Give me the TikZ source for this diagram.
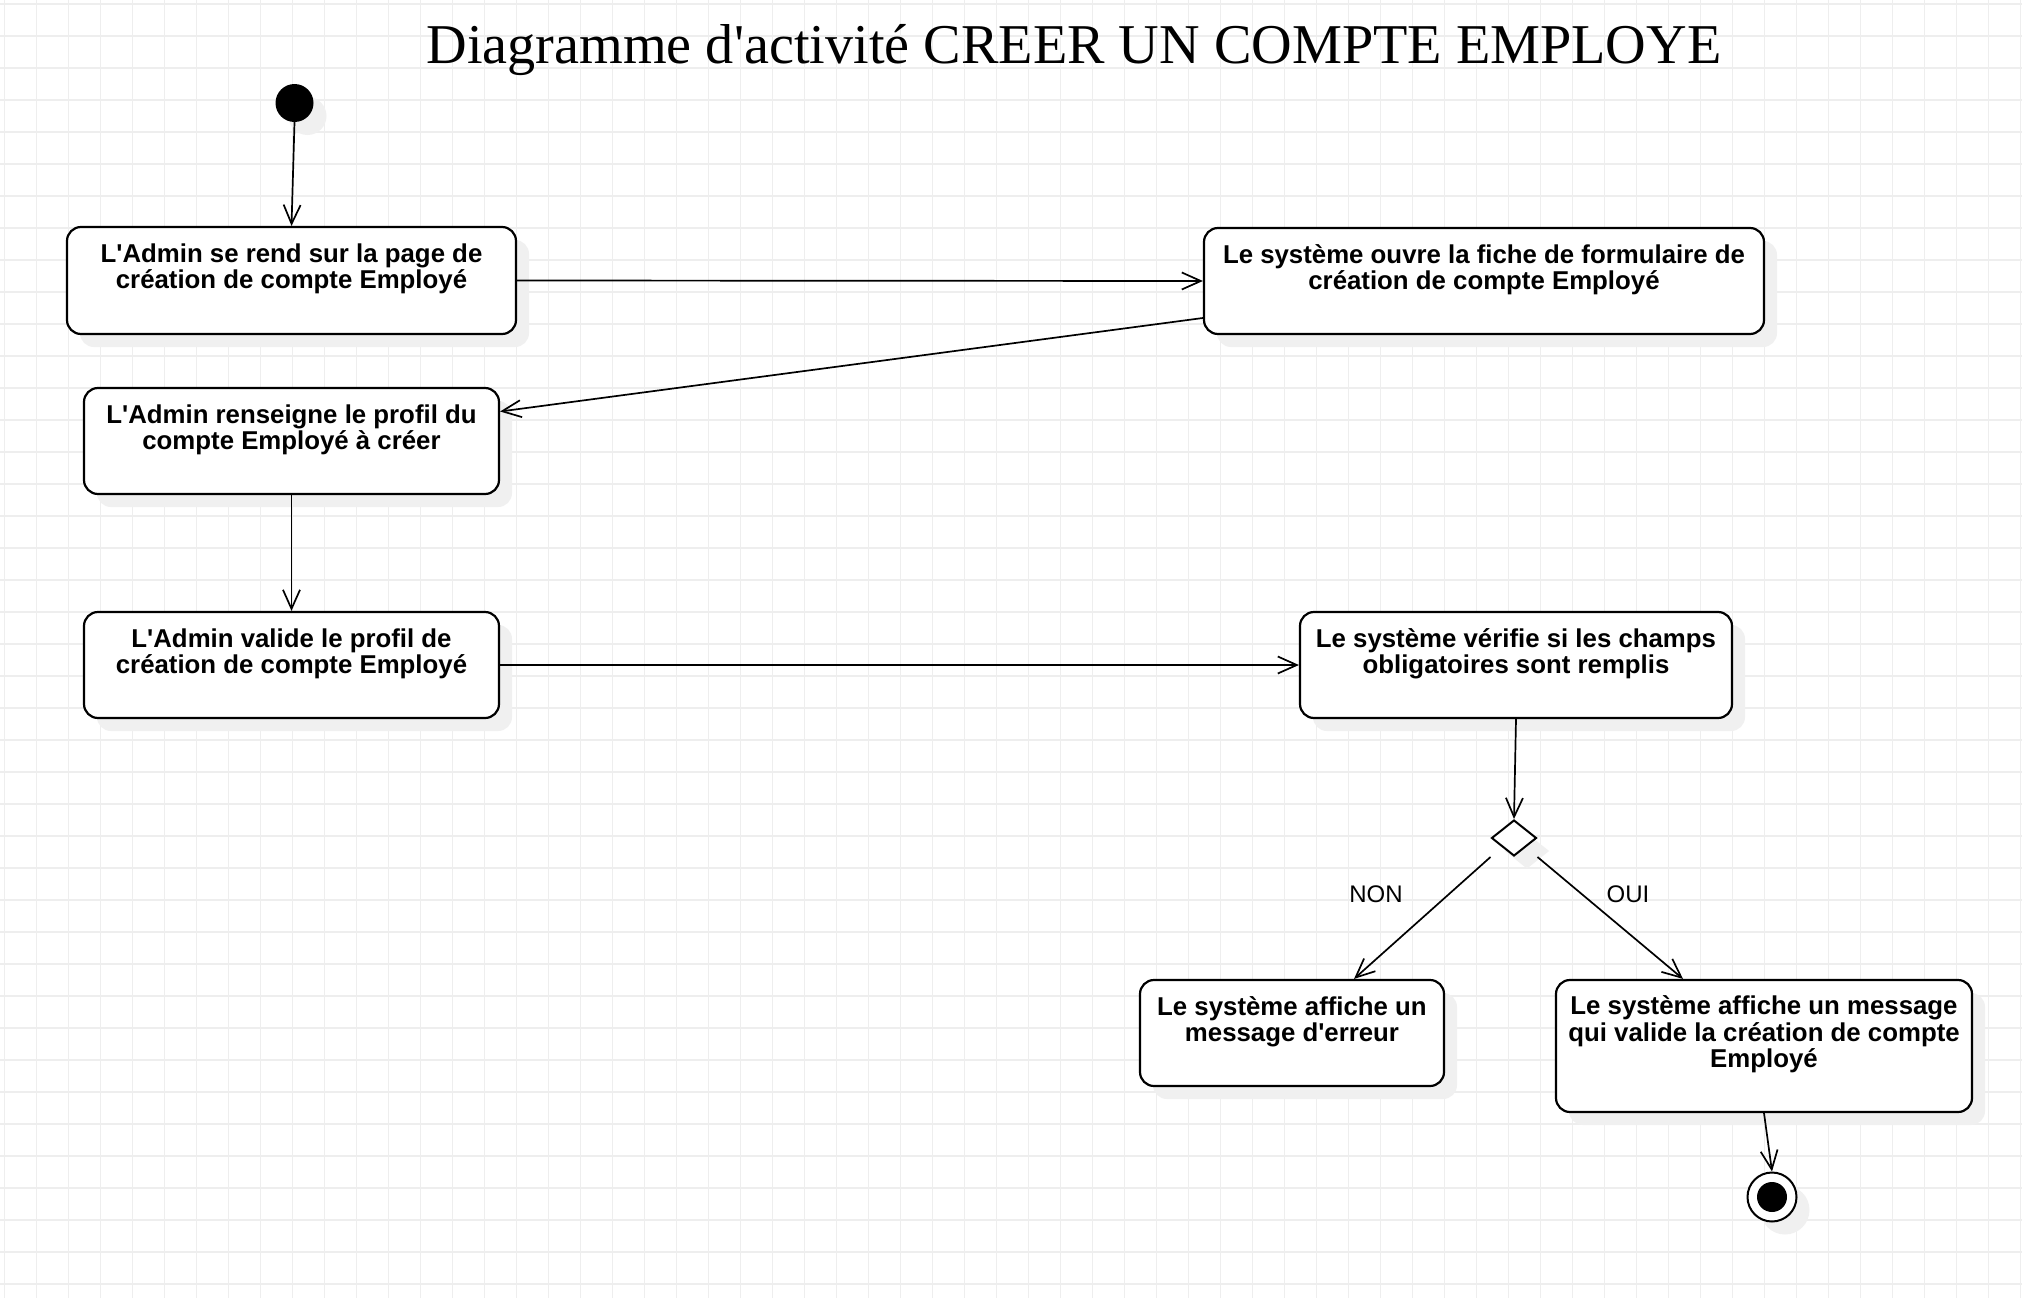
\documentclass[tikz,border=0pt]{standalone}
\usepackage{fontspec}
\setmainfont{Liberation Serif}[Ligatures=TeXOff]
\newfontfamily\lsans{Liberation Sans}
\usetikzlibrary{arrows.meta,shapes.geometric,calc}
\definecolor{gridc}{RGB}{238,238,238}
\definecolor{shadowc}{RGB}{240,240,240}
\begin{document}
\begin{tikzpicture}[x=1pt,y=-1pt,
  shad/.style={preaction={fill=shadowc,draw=none,transform canvas={shift={(13pt,-13pt)}}}},
  actbox/.style={shad,draw=black,fill=white,line width=2.2pt,rounded corners=14pt,inner sep=0pt},
  acttext/.style={font=\lsans\bfseries\fontsize{25.8}{26.5}\selectfont,align=center,inner sep=0pt,anchor=base},
  flow/.style={line width=1.7pt,-{Straight Barb[length=19pt,width=17pt]}},
  guard/.style={font=\lsans\fontsize{24}{26}\selectfont,inner sep=0pt},
  gridline/.style={gridc,line width=1.1pt}]
\useasboundingbox (0,0) rectangle (2022,1298);
\fill[white] (0,0) rectangle (2022,1298);
\foreach \i in {0,...,63} \draw[gridline] ({4.7+32*\i},0) -- ({4.7+32*\i},1298);
\foreach \j in {0,...,40} \draw[gridline] (0,{4+32*\j}) -- (2022,{4+32*\j});
% title
\node[font=\fontsize{56.2}{60}\selectfont,anchor=base,inner sep=0pt] (title) at (1074,64) {Diagramme d'activité CREER UN COMPTE EMPLOYE};
% initial node
\node[shad,circle,fill=black,minimum size=38pt,inner sep=0pt] (init) at (294.5,103) {};
% boxes (text anchor = baseline of last line)
\node[actbox,minimum width=449pt,minimum height=107pt] (b1) at (291.5,280.5) {};
\node[acttext] (t1) at ([yshift=-63pt]b1.north) {L'Admin se rend sur la page de\\création de compte Employé};
\node[actbox,minimum width=560pt,minimum height=106pt] (b2) at (1484,281) {};
\node[acttext] (t2) at ([yshift=-63pt]b2.north) {Le système ouvre la fiche de formulaire de\\création de compte Employé};
\node[actbox,minimum width=415pt,minimum height=106pt] (b3) at (291.5,441) {};
\node[acttext] (t3) at ([yshift=-63pt]b3.north) {L'Admin renseigne le profil du\\compte Employé à créer};
\node[actbox,minimum width=415pt,minimum height=106pt] (b4) at (291.5,665) {};
\node[acttext] (t4) at ([yshift=-63pt]b4.north) {L'Admin valide le profil de\\création de compte Employé};
\node[actbox,minimum width=432pt,minimum height=106pt] (b5) at (1516,665) {};
\node[acttext] (t5) at ([yshift=-63pt]b5.north) {Le système vérifie si les champs\\obligatoires sont remplis};
\node[shad,diamond,draw=black,fill=white,line width=2pt,minimum width=45pt,minimum height=36pt,inner sep=0pt] (dia) at (1514,838) {};
\node[actbox,minimum width=304pt,minimum height=106pt] (b6) at (1292,1033) {};
\node[acttext] (t6) at ([yshift=-63pt]b6.north) {Le système affiche un\\message d'erreur};
\node[actbox,minimum width=416pt,minimum height=132pt] (b7) at (1764,1046) {};
\node[acttext] (t7) at ([yshift=-89pt]b7.north) {Le système affiche un message\\qui valide la création de compte\\Employé};
% final node
\node[shad,circle,draw=black,fill=white,line width=2pt,minimum size=49pt,inner sep=0pt] (fin) at (1772,1197) {};
\node[circle,fill=black,minimum size=30pt,inner sep=0pt] (finin) at (fin.center) {};
% guard labels
\node[guard] (non) at (1376,894) {NON};
\node[guard] (oui) at (1628,894) {OUI};
% connectors
\draw[flow] (init.south) -- (b1.north);
\draw[flow] (b1.east) -- (b2.west);
\draw[flow] ([yshift=-37pt]b2.west) -- ([yshift=29.5pt]b3.east);
\draw[flow] (b3.south) -- (b4.north);
\draw[flow] (b4.east) -- (b5.west);
\draw[flow] (b5.south) -- (dia.north);
\draw[flow] (dia.west |- dia.south) -- ([xshift=62pt]b6.north);
\draw[flow] (dia.east |- dia.south) -- ([xshift=-81pt]b7.north);
\draw[flow] (b7.south) -- (fin.north);
\end{tikzpicture}
\end{document}
